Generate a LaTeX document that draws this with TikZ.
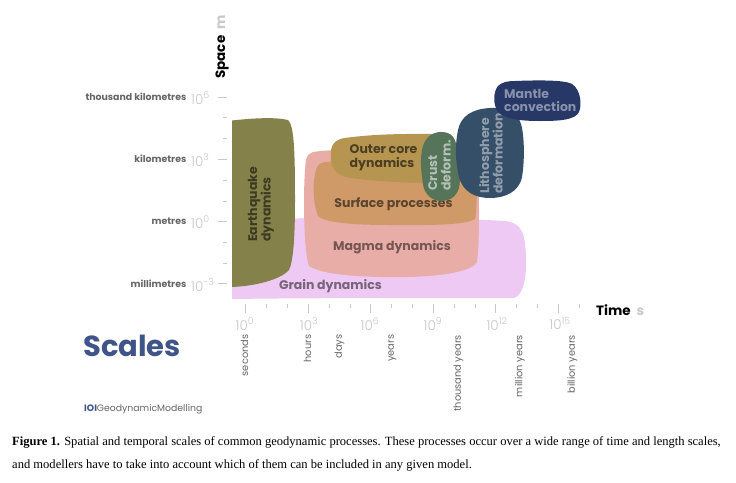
\documentclass[tikz,border=0pt]{standalone}
\usepackage{fontspec}
\setmainfont{Poppins}
\newfontfamily\lightfont{Poppins Light}
\newfontfamily\capfont{Liberation Serif}
\definecolor{grainc}{HTML}{EDC9F3}
\definecolor{magmac}{HTML}{E9ADA8}
\definecolor{surfc}{HTML}{CF9A68}
\definecolor{outerc}{HTML}{B59550}
\definecolor{crustc}{HTML}{55745A}
\definecolor{lithoc}{HTML}{364F68}
\definecolor{mantlec}{HTML}{273766}
\definecolor{quakec}{HTML}{85814A}
\definecolor{tickc}{HTML}{C9C9C9}
\definecolor{unitc}{HTML}{666666}
\definecolor{titlec}{HTML}{3F5488}
\tikzset{
  procl/.style={font=\bfseries\fontsize{12.5}{13.5}\selectfont,align=center,inner sep=0pt},
  unitl/.style={font=\fontsize{9.4}{10}\selectfont\bfseries,text=unitc,anchor=east,inner sep=0pt},
  powl/.style={font=\lightfont\fontsize{13.5}{14}\selectfont,text=tickc,inner sep=0pt},
  timel/.style={font=\fontsize{9.8}{10}\selectfont,text=unitc,rotate=90,anchor=east,inner sep=0pt},
  tk/.style={draw=tickc,line width=0.7pt},
  mn/.style={draw=tickc,line width=0.6pt},
}
\begin{document}
\begin{tikzpicture}[x=1pt,y=-1pt]
\useasboundingbox (0,0) rectangle (736,482);
\fill[white] (0,0) rectangle (736,482);
% axis ticks
\foreach \y in {97,159,221,283} \draw[tk] (218,\y) -- (227,\y);
\foreach \y in {117,138,180,201,242,263} \draw[mn] (223,\y) -- (227,\y);
\foreach \x in {245.7,308.2,370.7,433.2,495.7,558.2} \draw[tk] (\x,304) -- (\x,313);
\foreach \x in {266.5,287.3,329,349.9,391.5,412.4,454,474.9,516.5,537.4,579} \draw[mn] (\x,304) -- (\x,307.5);
% grain
\fill[grainc] (232,287) -- (232,220) .. controls (300,218) and (420,216) .. (505,221)
  .. controls (522,223) and (526,232) .. (526,265)
  .. controls (526,285) and (520,298) .. (513,298)
  .. controls (400,298) and (300,298) .. (232,299) -- cycle;
\node[procl,text=grainc!50!black] (grain) at (330.5,286) {Grain dynamics};
% magma
\fill[magmac] (313,152) .. controls (340,148) and (400,149) .. (478,150)
  .. controls (479,190) and (480,240) .. (477,262)
  .. controls (470,275) and (420,278) .. (380,277)
  .. controls (340,276) and (318,272) .. (309,266)
  .. controls (303,250) and (303,180) .. (306,160)
  .. controls (307,155) and (310,153) .. (313,152) -- cycle;
\node[procl,text=magmac!50!black] (magma) at (392,247) {Magma dynamics};
% surface
\fill[surfc] (325,162) .. controls (370,159) and (430,160) .. (477,161)
  .. controls (477,190) and (477,210) .. (475,219)
  .. controls (465,226) and (420,225) .. (390,225)
  .. controls (355,225) and (325,223) .. (318,216)
  .. controls (312,200) and (313,180) .. (316,170)
  .. controls (317,165) and (320,163) .. (325,162) -- cycle;
\node[procl,text=surfc!45!black] (surface) at (393.5,204) {Surface processes};
% outer core
\fill[outerc] (345,138) .. controls (380,133) and (420,134) .. (445,134)
  -- (445,183)
  .. controls (410,183) and (375,182) .. (345,177)
  .. controls (332,172) and (330,165) .. (331,150)
  .. controls (332,143) and (337,139) .. (345,138) -- cycle;
\node[procl,text=outerc!42!black,align=left,anchor=west] (outer) at (349.5,157.5) {Outer core\\dynamics};
% crust
\fill[crustc] (441,132) .. controls (452,132) and (456,138) .. (457,150)
  .. controls (459,165) and (461,180) .. (459,188)
  .. controls (456,198) and (448,201) .. (441,201)
  .. controls (432,201) and (424,194) .. (423,184)
  .. controls (421,170) and (420,160) .. (422,150)
  .. controls (424,138) and (432,132) .. (441,132) -- cycle;
\node[procl,text=crustc!45!white,rotate=90,align=left,anchor=west] (crust) at (439.5,191) {Crust\\deform.};
% lithosphere
\fill[lithoc] (490,108) .. controls (510,107) and (519,113) .. (522,128)
  .. controls (525,145) and (524,165) .. (522,177)
  .. controls (519,192) and (505,198) .. (490,198)
  .. controls (475,198) and (463,192) .. (459,177)
  .. controls (455,160) and (455,145) .. (458,130)
  .. controls (461,116) and (472,109) .. (490,108) -- cycle;
\node[procl,text=lithoc!55!white,rotate=90,align=left,anchor=west] (litho) at (491,194) {Lithosphere\\deformation};
% mantle
\fill[mantlec] (515,81) .. controls (540,80) and (565,80) .. (572,84)
  .. controls (581,90) and (582,105) .. (579,112)
  .. controls (575,120) and (560,121) .. (540,121)
  .. controls (520,121) and (505,119) .. (498,112)
  .. controls (493,105) and (493,92) .. (498,86)
  .. controls (502,82) and (508,81) .. (515,81) -- cycle;
\node[procl,text=mantlec!55!white,align=left,anchor=west] (mantle) at (504,100.5) {Mantle\\convection};
% earthquake
\fill[quakec] (232,120.5) .. controls (255,118) and (275,117) .. (288,120)
  .. controls (294,125) and (295,150) .. (295,200)
  .. controls (295,240) and (293,262) .. (289,270)
  .. controls (280,280) and (255,286) .. (232,287) -- cycle;
\node[procl,text=quakec!45!black,rotate=90,align=left,anchor=west] (quake) at (261,242) {Earthquake\\dynamics};
% y labels
\node[font=\bfseries\fontsize{13.5}{14}\selectfont,rotate=90,anchor=west,inner sep=0pt] (spacel) at (222,79) {Space\hspace{3pt} \textcolor{tickc}{m}};
\node[unitl] (u1) at (186.5,97) {thousand kilometres};
\node[unitl] (u2) at (186.5,159) {kilometres};
\node[unitl] (u3) at (186.5,221) {metres};
\node[unitl] (u4) at (186.5,284) {millimetres};
\node[powl,anchor=west] (p1) at (191,98) {10\textsuperscript{6}};
\node[powl,anchor=west] (p2) at (191,160) {10\textsuperscript{3}};
\node[powl,anchor=west] (p3) at (191,222) {10\textsuperscript{0}};
\node[powl,anchor=west] (p4) at (191,285) {10\textsuperscript{-3}};
% x labels
\node[powl] (t1) at (245,324) {10\textsuperscript{0}};
\node[powl] (t2) at (309,324) {10\textsuperscript{3}};
\node[powl] (t3) at (370,324) {10\textsuperscript{6}};
\node[powl] (t4) at (433,324) {10\textsuperscript{9}};
\node[powl] (t5) at (497,324) {10\textsuperscript{12}};
\node[powl] (t6) at (560,324) {10\textsuperscript{15}};
\node[font=\bfseries\fontsize{13.5}{14}\selectfont,anchor=west,inner sep=0pt] (timet) at (596,310) {Time\hspace{3pt} \textcolor{tickc}{s}};
\node[timel] (s1) at (244.5,334.5) {seconds};
\node[timel] (s2) at (307.5,334.5) {hours};
\node[timel] (s3) at (339.5,334.5) {days};
\node[timel] (s4) at (392.5,334.5) {years};
\node[timel] (s5) at (458.5,335) {thousand years};
\node[timel] (s6) at (520,335) {million years};
\node[timel] (s7) at (572.5,335) {billion years};
% title
\node[font=\bfseries\fontsize{29}{32}\selectfont,text=titlec,anchor=west,inner sep=0pt] (scales) at (83,346) {Scales};
\node[font=\fontsize{9.3}{10}\selectfont,text=unitc,anchor=west,inner sep=0pt] (brand) at (84,409) {\textcolor{titlec}{\bfseries IOI}GeodynamicModelling};
% caption
\node[font=\capfont\fontsize{12.55}{23}\selectfont,anchor=north west,inner sep=0pt,align=left] (cap) at (12,436)
 {\textbf{Figure 1.} Spatial and temporal scales of common geodynamic processes. These processes occur over a wide range of time and length scales,\\and modellers have to take into account which of them can be included in any given model.};
\end{tikzpicture}
\end{document}
